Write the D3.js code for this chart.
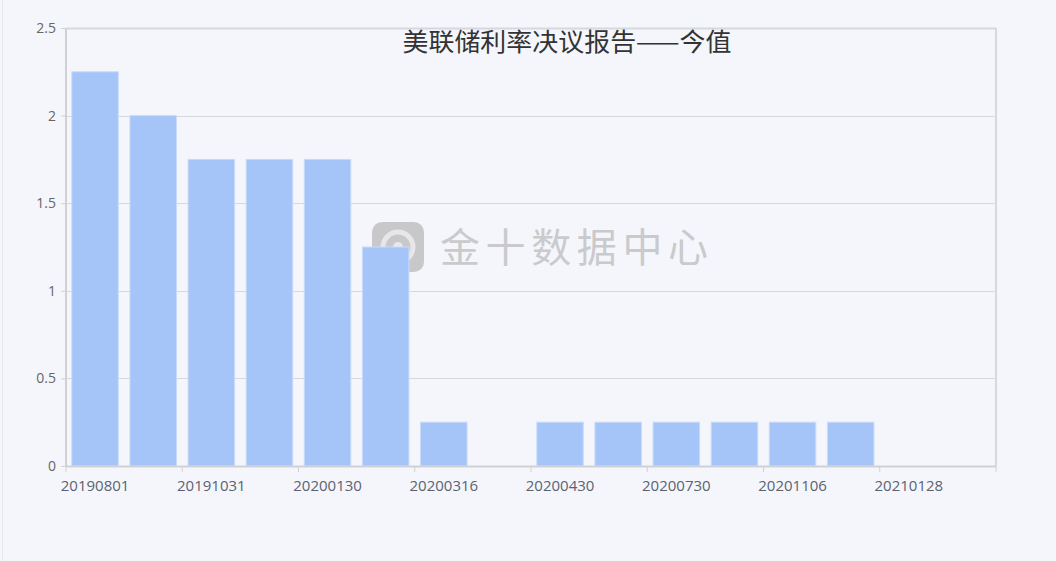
<!DOCTYPE html>
<html><head><meta charset="utf-8">
<script src="https://cdn.jsdelivr.net/npm/d3@7"></script>
<style>
html,body{margin:0;padding:0;background:#f4f6fb;}
svg{display:block;}
</style></head>
<body>
<svg id="c" width="1056" height="561"></svg>
<script>
const categories = ["20190801","20190919","20191031","20191212","20200130","20200304","20200316","20200319","20200430","20200611","20200730","20200917","20201106","20201217","20210128","20210318"];
const values = [2.25, 2.0, 1.75, 1.75, 1.75, 1.25, 0.25, null, 0.25, 0.25, 0.25, 0.25, 0.25, 0.25, null, null];
const yTicks = [0, 0.5, 1, 1.5, 2, 2.5];
const title = "美联储利率决议报告——今值";
const watermark = "金十数据中心";

const svg = d3.select("#c");
const m = {l:66, r:60, t:28, b:95};
const W = 1056, H = 561;
const x = d3.scaleBand().domain(categories).range([m.l, W - m.r]).paddingInner(0.2).paddingOuter(0.1);
const xb = d3.scaleBand().domain(categories).range([m.l, W - m.r]);
const y = d3.scaleLinear().domain([0, 2.5]).range([H - m.b, m.t]);

// left faint border
svg.append("line").attr("x1",2.5).attr("x2",2.5).attr("y1",0).attr("y2",H).attr("stroke","#e6e8ee").attr("stroke-width",1);

// grid
svg.append("g").selectAll("line").data(yTicks.filter(d=>d>0)).join("line")
  .attr("x1", m.l).attr("x2", W - m.r)
  .attr("y1", d=>Math.round(y(d))+0.5).attr("y2", d=>Math.round(y(d))+0.5)
  .attr("stroke","#d6d8de").attr("stroke-width", d=> d===2.5?2:1);
// right border
svg.append("line").attr("x1", W-m.r).attr("x2", W-m.r).attr("y1", m.t).attr("y2", H-m.b)
  .attr("stroke","#d6d8de").attr("stroke-width",2);

// watermark
const wm = svg.append("g").attr("opacity",0.9);
wm.append("rect").attr("x",372).attr("y",222).attr("width",52).attr("height",50).attr("rx",10).attr("fill","#c4c4c6");
wm.append("circle").attr("cx",398).attr("cy",247).attr("r",15).attr("fill","none").attr("stroke","#e6e6e8").attr("stroke-width",5);
wm.append("circle").attr("cx",398).attr("cy",247).attr("r",5).attr("fill","#e6e6e8");
wm.append("text").attr("x",440).attr("y",262).attr("font-family","'Noto Sans CJK SC'").attr("font-size",40)
  .attr("fill","#c6c6c8").attr("textLength",268).text(watermark);

// bars
svg.append("g").selectAll("rect").data(categories.map((c,i)=>({c, v: values[i]})).filter(d=>d.v!=null)).join("rect")
  .attr("x", d=>x(d.c)).attr("width", x.bandwidth())
  .attr("y", d=>y(d.v)).attr("height", d=>y(0)-y(d.v))
  .attr("fill","#a5c4f8").attr("stroke","#c9dbfb").attr("stroke-width",1);

// y axis
const ya = svg.append("g").attr("transform",`translate(${m.l},0)`)
  .call(d3.axisLeft(y).tickValues(yTicks).tickSize(5).tickPadding(5).tickFormat(d3.format("~g")));
ya.select(".domain").attr("stroke","#cfd1d6").attr("stroke-width",2).attr("d", `M0,${m.t}V${H-m.b}`);
ya.selectAll(".tick line").attr("stroke","#cfd1d6");
ya.selectAll("text").attr("fill","#666").attr("font-size",14).attr("font-family","'Open Sans', sans-serif");

// x axis
const xa = svg.append("g").attr("transform",`translate(0,${H-m.b})`);
xa.append("line").attr("x1",m.l).attr("x2",W-m.r).attr("y1",0.5).attr("y2",0.5).attr("stroke","#cfd1d6").attr("stroke-width",2);
const tickIdx = categories.map((c,i)=>i).filter(i=>i%2===0);
xa.selectAll("line.t").data(tickIdx.concat([categories.length])).join("line").attr("class","t")
  .attr("x1", i=> i<categories.length ? xb(categories[i]) : W-m.r)
  .attr("x2", i=> i<categories.length ? xb(categories[i]) : W-m.r)
  .attr("y1",0).attr("y2",6).attr("stroke","#cfd1d6");
xa.selectAll("text").data(tickIdx).join("text")
  .attr("x", i=> xb(categories[i]) + xb.bandwidth()/2).attr("y",25)
  .attr("text-anchor","middle").attr("fill","#5a6272").attr("font-size",15)
  .attr("font-family","'Open Sans', sans-serif").text(i=>categories[i]);

// title
svg.append("text").attr("x",567).attr("y",51).attr("text-anchor","middle")
  .attr("font-family","'Noto Sans CJK SC'").attr("font-size",25).attr("fill","#333")
  .attr("textLength",329).attr("lengthAdjust","spacingAndGlyphs").text(title);
</script>
</body></html>
